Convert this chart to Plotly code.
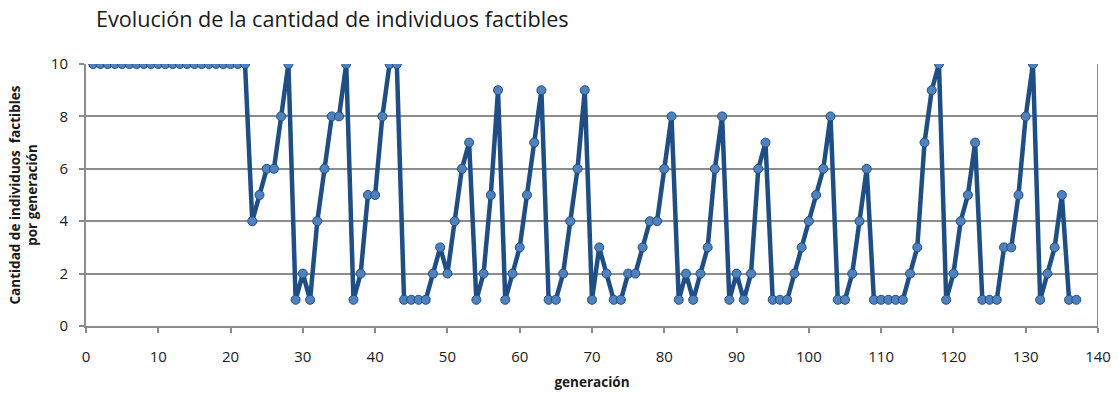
import plotly.graph_objects as go

# generation number and count of feasible individuals per generation
generaciones = list(range(1, 138))
factibles = (
    [10] * 22
    + [4, 5, 6, 6, 8, 10, 1, 2, 1, 4, 6, 8, 8, 10, 1, 2, 5, 5, 8, 10, 10,
       1, 1, 1, 1, 2, 3, 2, 4, 6, 7, 1, 2, 5, 9, 1, 2, 3, 5, 7, 9,
       1, 1, 2, 4, 6, 9, 1, 3, 2, 1, 1, 2, 2, 3, 4, 4, 6, 8,
       1, 2, 1, 2, 3, 6, 8, 1, 2, 1, 2, 6, 7, 1, 1, 1, 2, 3, 4, 5, 6, 8,
       1, 1, 2, 4, 6, 1, 1, 1, 1, 1, 2, 3, 7, 9, 10,
       1, 2, 4, 5, 7, 1, 1, 1, 3, 3, 5, 8, 10, 1, 2, 3, 5, 1, 1]
)

x_ticks = list(range(0, 141, 10))
y_ticks = [0, 2, 4, 6, 8, 10]

FONT = "Open Sans"
GRID = "#8c8c8c"

fig = go.Figure()
fig.add_trace(go.Scatter(
    x=generaciones, y=factibles, mode="lines+markers",
    line=dict(color="#1f4e85", width=4.5),
    marker=dict(size=9, color="#4f81bd", line=dict(color="#1f4e85", width=1)),
    showlegend=False,
))

fig.update_layout(
    width=1118, height=394,
    margin=dict(l=86, r=20, t=64, b=68),
    paper_bgcolor="white", plot_bgcolor="white",
    font=dict(family=FONT, color="#1a1a1a"),
    title=dict(text="Evolución de la cantidad de individuos factibles",
               x=96 / 1118, xanchor="left", y=1 - 19 / 394, yanchor="middle",
               font=dict(size=21.6, family=FONT, color="#1a1a1a")),
    xaxis=dict(
        range=[0, 140], tickvals=x_ticks, ticks="outside", ticklen=5,
        tickcolor=GRID, tickwidth=1.5, showline=True, linecolor=GRID, linewidth=2,
        mirror=False, showgrid=False, zeroline=False, automargin=False,
        tickfont=dict(size=15, family=FONT, color="#1a1a1a"),
        ticklabelstandoff=11,
        title=dict(text="<b>generación</b>", font=dict(size=13.5, family=FONT),
                   standoff=13),
    ),
    yaxis=dict(
        range=[0, 10], tickvals=y_ticks, ticks="outside", ticklen=5,
        tickcolor=GRID, tickwidth=1.5, showline=True, linecolor=GRID, linewidth=2,
        showgrid=True, gridcolor=GRID, gridwidth=1.5, zeroline=False, automargin=False,
        tickfont=dict(size=15, family=FONT, color="#1a1a1a"),
        ticklabelstandoff=8,
        title=dict(text="<b>Cantidad de individuos  factibles<br>por generación</b>",
                   font=dict(size=13.5, family=FONT), standoff=10),
    ),
    shapes=[dict(type="line", xref="x", yref="paper", x0=140, x1=140, y0=0, y1=1,
                 line=dict(color=GRID, width=2))],
)

fig.write_html("out.html")
